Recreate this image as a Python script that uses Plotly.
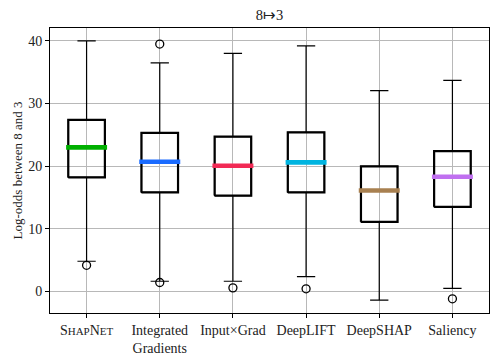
import plotly.graph_objects as go

# valores (8 -> 3)
methods = [
    "S<span style='font-size:11px'>HAP</span>N<span style='font-size:11px'>ET</span>",
    "Integrated<br>Gradients",
    "Input×Grad",
    "DeepLIFT",
    "DeepSHAP",
    "Saliency",
]
lower_whisker = [4.8, 1.6, 1.6, 2.35, -1.4, 0.45]
q1 = [18.2, 15.8, 15.3, 15.8, 11.1, 13.5]
medians = [23.0, 20.7, 20.05, 20.6, 16.1, 18.3]
q3 = [27.4, 25.3, 24.7, 25.4, 19.95, 22.4]
upper_whisker = [40.0, 36.5, 38.0, 39.2, 32.05, 33.7]
outliers = [[4.15], [39.5, 1.4], [0.55], [0.4], [], [-1.2]]
median_colors = ["#00b000", "#1a6bff", "#f22a55", "#00b4e0", "#a88050", "#c070f0"]

FONT = "Liberation Serif, Times New Roman, serif"
box_w = 0.5

fig = go.Figure()
for i, name in enumerate(methods):
    pos = i + 1
    fig.add_trace(go.Box(
        x=[pos], q1=[q1[i]], median=[medians[i]], q3=[q3[i]],
        lowerfence=[lower_whisker[i]], upperfence=[upper_whisker[i]],
        width=box_w, whiskerwidth=0.5,
        line=dict(color="black", width=1.2),
        fillcolor="rgba(0,0,0,0)",
        showlegend=False, hoverinfo="skip",
    ))
    # borde grueso de la caja
    fig.add_trace(go.Scatter(
        x=[pos - box_w / 2, pos + box_w / 2, pos + box_w / 2, pos - box_w / 2, pos - box_w / 2],
        y=[q1[i], q1[i], q3[i], q3[i], q1[i]],
        mode="lines", line=dict(color="black", width=2.2),
        showlegend=False, hoverinfo="skip",
    ))
    # mediana en color
    fig.add_trace(go.Scatter(
        x=[pos - 0.28, pos + 0.28], y=[medians[i], medians[i]],
        mode="lines", line=dict(color=median_colors[i], width=4.6),
        showlegend=False, hoverinfo="skip",
    ))
    if outliers[i]:
        fig.add_trace(go.Scatter(
            x=[pos] * len(outliers[i]), y=outliers[i], mode="markers",
            marker=dict(symbol="circle-open", size=8, color="black", line=dict(width=1.3)),
            showlegend=False, hoverinfo="skip",
        ))

# la pagina tiene un margen de 8px, lo descontamos
fig.update_layout(
    width=491, height=352,
    margin=dict(l=42, r=10, t=20, b=47),
    plot_bgcolor="white", paper_bgcolor="white",
    font=dict(family=FONT, size=14, color="#222"),
    title=dict(text="8↦3", xref="paper", x=0.5, xanchor="center",
               yref="container", y=0.98, yanchor="middle",
               font=dict(family=FONT, size=14.5, color="#222")),
)
fig.update_xaxes(
    range=[0.5, 6.5], tickvals=list(range(1, len(methods) + 1)), ticktext=methods,
    showgrid=True, gridcolor="#b8b8b8", gridwidth=1,
    showline=True, linecolor="black", linewidth=1, mirror=True,
    ticks="outside", ticklen=4, tickcolor="black", zeroline=False,
    tickfont=dict(family=FONT, size=14, color="#222"), automargin=False,
)
fig.update_yaxes(
    range=[-3.47, 42.07], tickvals=[0, 10, 20, 30, 40],
    showgrid=True, gridcolor="#b8b8b8", gridwidth=1,
    showline=True, linecolor="black", linewidth=1, mirror=True,
    ticks="outside", ticklen=4, tickcolor="black", zeroline=False,
    title=dict(text="Log-odds between 8 and 3", standoff=2,
               font=dict(family=FONT, size=13, color="#222")),
    tickfont=dict(family=FONT, size=14, color="#222"), automargin=False,
)

fig.write_html("out.html")
